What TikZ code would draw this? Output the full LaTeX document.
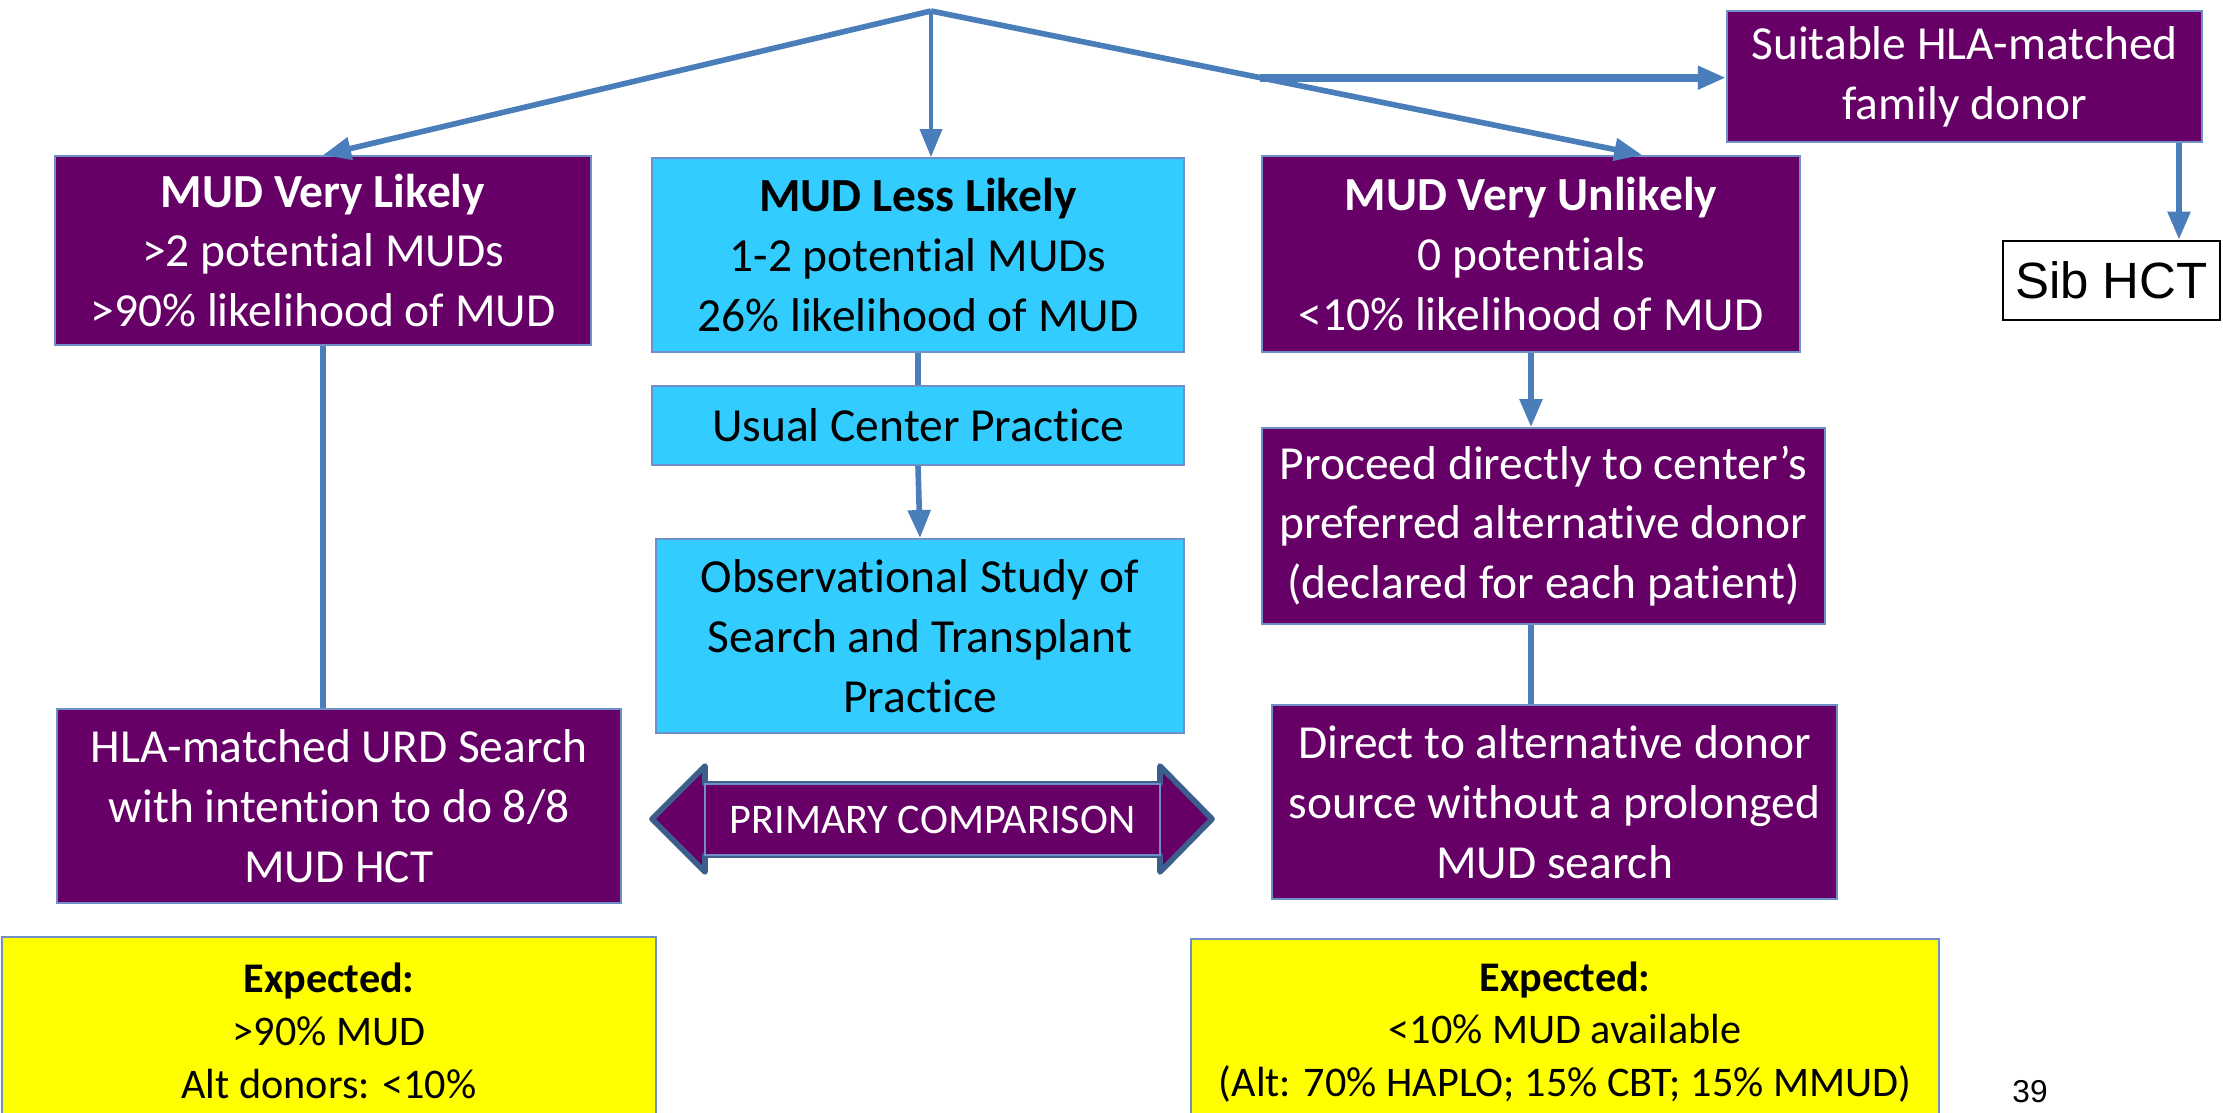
\documentclass[tikz,border=0pt]{standalone}
\usepackage{fontspec}
\setmainfont{Carlito}[Ligatures=NoCommon]
\newfontfamily\arialfont{Liberation Sans}
\usetikzlibrary{arrows.meta,calc}

\definecolor{plum}{HTML}{660066}
\definecolor{sky}{HTML}{33CCFF}
\definecolor{lemon}{HTML}{FFFF00}
\definecolor{flow}{HTML}{4A7EBB}
\definecolor{edge}{HTML}{6F8FC6}
\definecolor{navy}{HTML}{3B5E8C}

\begin{document}
\begin{tikzpicture}[x=0.01cm, y=-0.01cm, >={Triangle[length=0.28cm,width=0.22cm]},
  every node/.style={font=\fontsize{13.5}{17}\selectfont, align=center, inner sep=0pt},
  purplebox/.style={draw=edge, line width=0.5pt, fill=plum, text=white},
  skybox/.style={draw=edge, line width=0.5pt, fill=sky, text=black},
  yellowbox/.style={draw=edge, line width=0.5pt, fill=lemon, text=black, font=\fontsize{12}{15}\selectfont},
  link/.style={draw=flow, line width=1.6pt},
  thinlink/.style={draw=flow, line width=1.1pt},
  boldlink/.style={draw=flow, line width=2.3pt}]

  \useasboundingbox[fill=white] (0,0) rectangle (2223,1113);

  % Top level
  \coordinate (top) at (931,11);
  \node[purplebox, minimum width=5.36cm, minimum height=1.89cm] (likely) at (323,250.5)
    {\textbf{MUD Very Likely}\\>2 potential MUDs\\>90\% likelihood of MUD};
  \node[skybox, minimum width=5.32cm, minimum height=1.94cm] (less) at (918,255)
    {\textbf{MUD Less Likely}\\1-2 potential MUDs\\26\% likelihood of MUD};
  \node[purplebox, minimum width=5.38cm, minimum height=1.96cm] (unlikely) at (1531,254)
    {\textbf{MUD Very Unlikely}\\0 potentials\\<10\% likelihood of MUD};
  \node[purplebox, minimum width=4.75cm, minimum height=1.31cm] (family) at (1964.5,76.5)
    {Suitable HLA-matched\\family donor};
  \node[draw=black, line width=0.8pt, fill=white, minimum width=2.17cm, minimum height=0.79cm,
    font=\arialfont\fontsize{14.5}{17}\selectfont] (sib) at (2111.5,280.5) {Sib HCT};

  % Second level
  \node[skybox, minimum width=5.32cm, minimum height=0.79cm] (usual) at (918,425.5)
    {Usual Center Practice};
  \node[skybox, minimum width=5.28cm, minimum height=1.94cm] (observe) at (920,636)
    {Observational Study of\\Search and Transplant\\Practice};
  \node[purplebox, minimum width=5.63cm, minimum height=1.96cm] (proceed) at (1543.5,526)
    {Proceed directly to center’s\\preferred alternative donor\\(declared for each patient)};
  \node[purplebox, minimum width=5.64cm, minimum height=1.94cm] (search) at (339,806)
    {HLA-matched URD Search\\with intention to do 8/8\\MUD HCT};
  \node[purplebox, minimum width=5.65cm, minimum height=1.94cm] (direct) at (1554.5,802)
    {Direct to alternative donor\\source without a prolonged\\MUD search};

  % Primary comparison arrow
  \filldraw[fill=plum, draw=navy, line width=1.6pt, line join=round]
    (652,819) -- (705,766) -- (705,784) -- (1160,784) -- (1160,766) -- (1212,819)
    -- (1160,872) -- (1160,855) -- (705,855) -- (705,872) -- cycle;
  \node[purplebox, minimum width=4.55cm, minimum height=0.71cm,
    font=\fontsize{12}{14}\selectfont] (compare) at (932.5,819.5) {PRIMARY COMPARISON};

  % Expected outcomes
  \node[yellowbox, minimum width=6.54cm, minimum height=1.88cm] (expleft) at (329,1031)
    {\textbf{Expected:}\\>90\% MUD\\Alt donors: <10\%};
  \node[yellowbox, minimum width=7.48cm, minimum height=1.86cm] (expright) at (1565,1032)
    {\textbf{Expected:}\\<10\% MUD available\\(Alt: 70\% HAPLO; 15\% CBT; 15\% MMUD)};
  \node[font=\arialfont\fontsize{9}{10}\selectfont] (page) at (2030,1092) {39};

  % Connectors
  \coordinate (righttip) at ($(unlikely.north west)!0.706!(unlikely.north east)$);
  \coordinate (branch) at ($(top)!0.463!(righttip)$);
  \coordinate (drop) at (2179,0);
  \draw[link, ->] (top) -- (likely.north);
  \draw[thinlink, ->] (top) -- (less.north -| top);
  \draw[link, ->] (top) -- (righttip);
  \draw[boldlink, ->] (branch) -- (branch -| family.west);
  \draw[link, ->] (family.south -| drop) -- (sib.north -| drop);
  \draw[link] (likely.south) -- (likely.south |- search.north);
  \draw[link] (less.south) -- (usual.north);
  \draw[link, ->] (usual.south) -- (observe.north);
  \draw[link, ->] (unlikely.south) -- (unlikely.south |- proceed.north);
  \draw[link] (unlikely.south |- proceed.south) -- (unlikely.south |- direct.north);
\end{tikzpicture}
\end{document}
